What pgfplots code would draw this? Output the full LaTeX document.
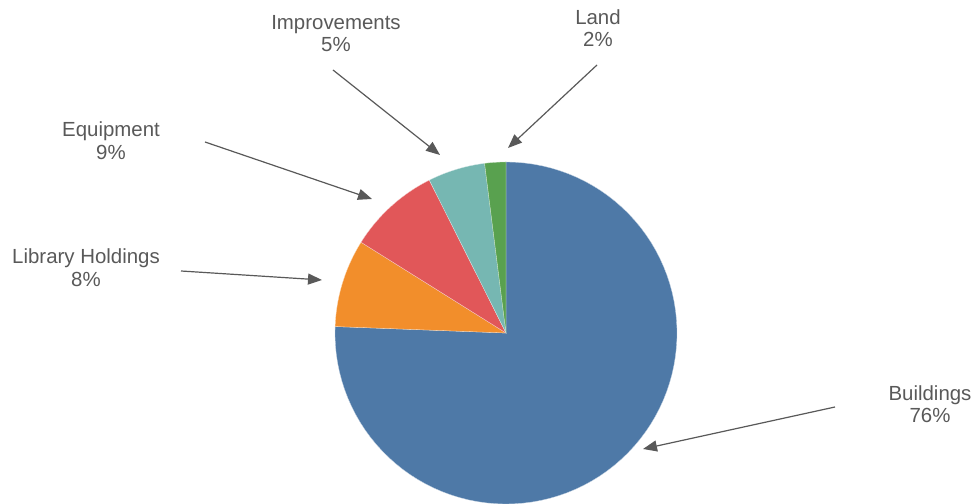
\documentclass[border=0pt]{standalone}
\usepackage{pgfplots}
\pgfplotsset{compat=1.18}
\usepgfplotslibrary{polar}
\usepackage{pgfplotstable}
\usepackage{fontspec}
\setmainfont{Liberation Sans}
\usetikzlibrary{arrows.meta}

\definecolor{cBuild}{HTML}{4E79A7}
\definecolor{cLib}{HTML}{F28E2B}
\definecolor{cEquip}{HTML}{E15759}
\definecolor{cImpr}{HTML}{76B7B2}
\definecolor{cLand}{HTML}{59A14F}
\definecolor{txt}{HTML}{595959}

% shares in percent, clockwise from 12 o'clock
\pgfplotstableread{
share color
75.6 cBuild
8.3  cLib
8.7  cEquip
5.4  cImpr
2.0  cLand
}\piedata

\begin{document}
\begin{tikzpicture}[x=1bp,y=1bp]
\path[use as bounding box] (0,0) rectangle (976,504);
\begin{polaraxis}[
    hide axis,
    scale only axis,
    width=342bp, height=342bp,
    ymin=0, ymax=1,
    clip=false,
    anchor=origin,
    at={(506bp,171bp)},
  ]
  \pgfmathsetmacro{\angstart}{90}
  \pgfplotsforeachungrouped \i in {0,...,4}{
    \pgfplotstablegetelem{\i}{share}\of\piedata \let\sh=\pgfplotsretval
    \pgfplotstablegetelem{\i}{color}\of\piedata \let\col=\pgfplotsretval
    \pgfmathsetmacro{\angend}{\angstart-3.6*\sh}
    \edef\cmd{\noexpand\addplot[fill=\col, draw=white!70!\col, line width=0.3bp,
      domain=\angend:\angstart, samples=90] {1} -- (axis cs:0,0) -- cycle;}
    \cmd
    \let\angstart=\angend
  }
\end{polaraxis}

\tikzset{lbl/.style={anchor=base, text=txt, inner sep=0pt,
  font=\fontsize{20.5}{24}\selectfont},
  arr/.style={draw=txt, line width=1.2bp, -{Triangle[length=14bp,width=11bp]}}}

\node[lbl] at (336,474) {Improvements};
\node[lbl] at (336,452) {5\%};
\node[lbl] at (598,479) {Land};
\node[lbl] at (598,457) {2\%};
\node[lbl] at (111,367) {Equipment};
\node[lbl] at (111,344) {9\%};
\node[lbl] at (86,240) {Library Holdings};
\node[lbl] at (86,217) {8\%};
\node[lbl] at (930,103) {Buildings};
\node[lbl] at (930,81) {76\%};

\draw[arr] (333,434) -- (440,349);
\draw[arr] (597,439) -- (508,356);
\draw[arr] (205,362) -- (372,305);
\draw[arr] (181,233) -- (322,224);
\draw[arr] (835,97) -- (643,55);
\end{tikzpicture}
\end{document}
